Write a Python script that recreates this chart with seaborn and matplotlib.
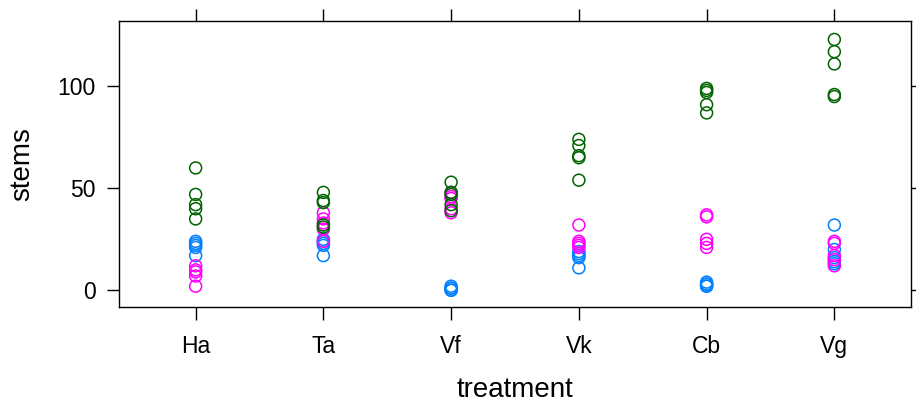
import matplotlib
matplotlib.use("Agg")
import matplotlib.pyplot as plt
import seaborn as sns
import pandas as pd

treatments = ["Ha", "Ta", "Vf", "Vk", "Cb", "Vg"]
groups = ["A", "B", "C"]
colors = ["#0080ff", "#ff00ff", "#006400"]

# values per treatment, per group (blue, magenta, green)
blue_vals = {
    "Ha": [24, 23, 22, 21, 17],
    "Ta": [25, 24, 23, 22, 17],
    "Vf": [2, 1, 1, 0, 0],
    "Vk": [19, 18, 17, 16, 11],
    "Cb": [4, 3, 3, 2, 2],
    "Vg": [32, 20, 16, 14, 13],
}
magenta_vals = {
    "Ha": [12, 10, 9, 7, 2],
    "Ta": [38, 35, 33, 30, 24],
    "Vf": [48, 46, 45, 40, 38],
    "Vk": [32, 24, 23, 22, 21],
    "Cb": [37, 36, 25, 23, 21],
    "Vg": [24, 23, 17, 15, 12],
}
green_vals = {
    "Ha": [60, 47, 42, 40, 35],
    "Ta": [48, 44, 43, 32, 31],
    "Vf": [53, 48, 47, 42, 39],
    "Vk": [74, 71, 66, 65, 54],
    "Cb": [99, 98, 97, 91, 87],
    "Vg": [123, 117, 111, 96, 95],
}
y_ticks = [0, 50, 100]

rows = []
for g, d in zip(groups, [blue_vals, magenta_vals, green_vals]):
    for t in treatments:
        for v in d[t]:
            rows.append({"treatment": t, "stems": v, "group": g})
df = pd.DataFrame(rows)

sns.set_theme(style="white")
plt.rcParams["font.family"] = ["Liberation Sans", "DejaVu Sans"]
plt.rcParams["text.color"] = "black"
plt.rcParams["axes.labelcolor"] = "black"
plt.rcParams["xtick.color"] = "black"
plt.rcParams["ytick.color"] = "black"

fig = plt.figure(figsize=(9.16, 4.04), dpi=100)
ax = fig.add_axes([119 / 916, 1 - 307 / 404, (911 - 119) / 916, (307 - 20.7) / 404])

sns.stripplot(data=df, x="treatment", y="stems", hue="group", order=treatments,
              hue_order=groups, palette=colors, jitter=False, dodge=False,
              size=8.6, linewidth=1.1, ax=ax, legend=False)
for coll in ax.collections:
    fc = coll.get_facecolors()
    coll.set_edgecolors(fc)
    coll.set_facecolors("none")

ax.set_xlim(-0.6, 5.6)
ax.set_ylim(-8.2, 132.2)
ax.set_yticks(y_ticks)
ax.set_yticklabels([str(v) for v in y_ticks])
for s in ax.spines.values():
    s.set_color("black")
    s.set_linewidth(1.0)
    s.set_visible(True)
ax.tick_params(axis="both", direction="out", length=9, width=1.0, colors="black",
               labelsize=16.5, top=True, right=True, bottom=True, left=True,
               labeltop=False, labelright=False)
ax.tick_params(axis="y", pad=8)
ax.tick_params(axis="x", pad=11)
ax.set_xlabel("treatment", fontsize=20, labelpad=14, color="black")
ax.set_ylabel("stems", fontsize=20, labelpad=16, color="black")
ax.grid(False)

fig.savefig("out.png", dpi=100)
